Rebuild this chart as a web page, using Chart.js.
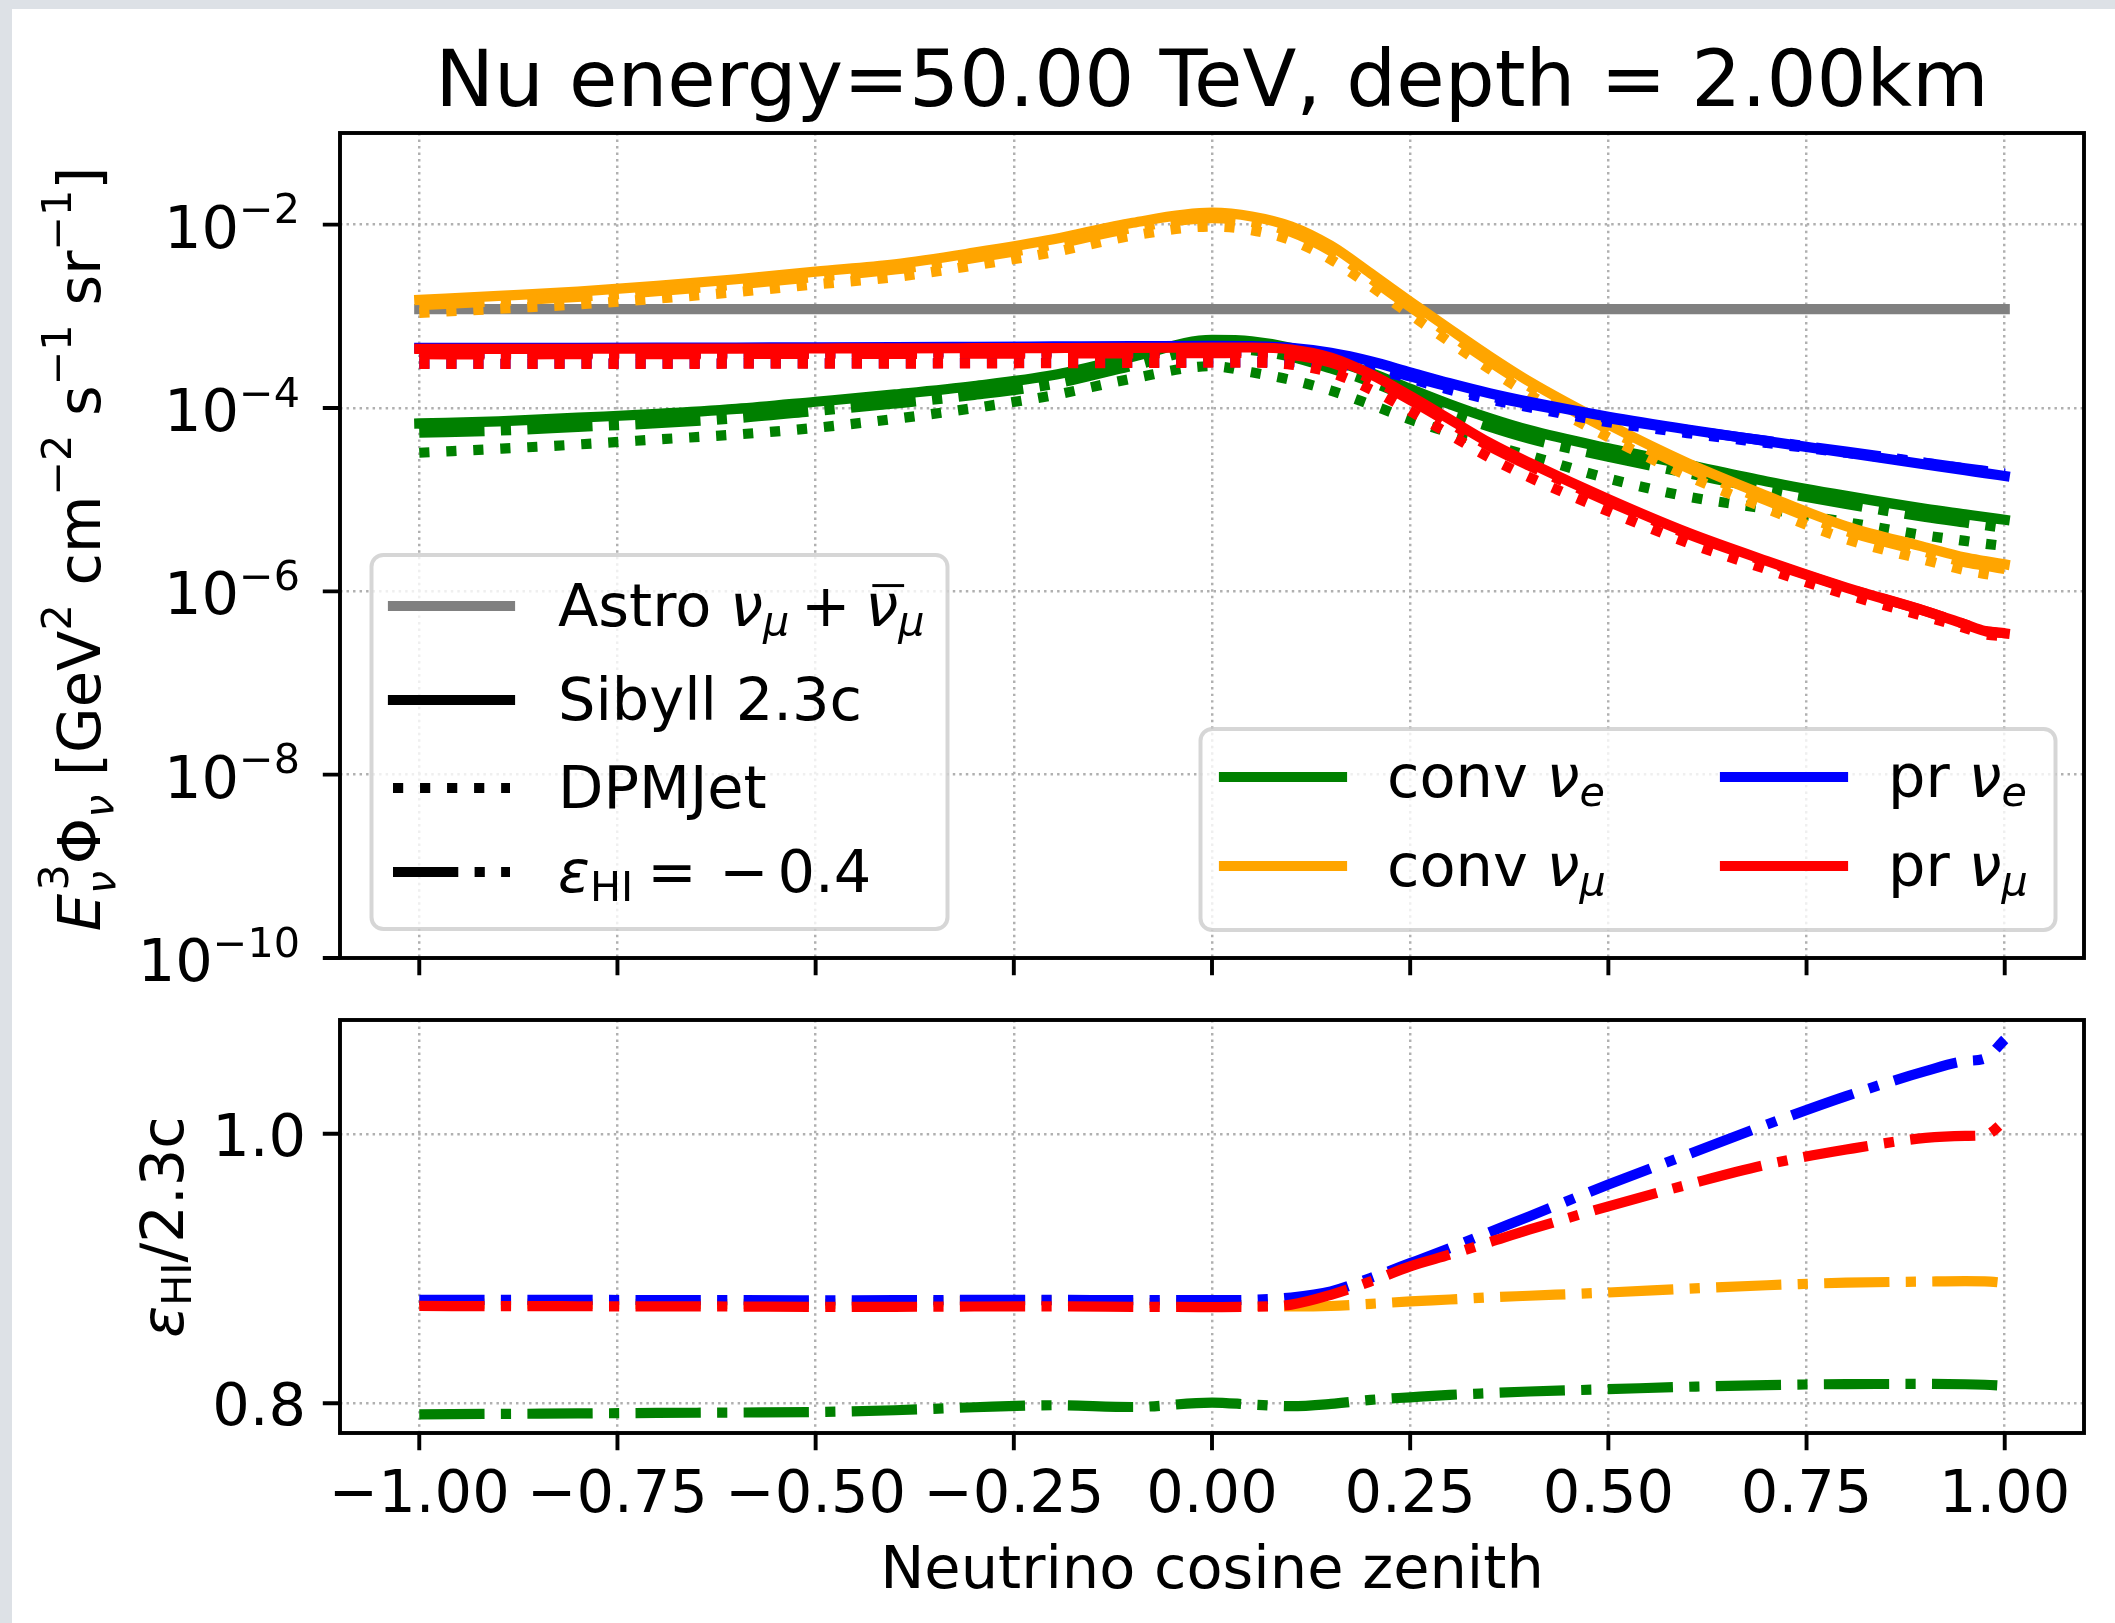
<!DOCTYPE html>
<html>
<head>
<meta charset="utf-8">
<title>Nu energy=50.00 TeV, depth = 2.00km</title>
<script src="https://cdn.jsdelivr.net/npm/chart.js"></script>
<style>
  html, body { margin: 0; padding: 0; background: #ffffff; }
  #page { position: relative; width: 2115px; height: 1623px; overflow: hidden; background: #ffffff; }
  .band { position: absolute; background: #dde1e6; }
  canvas { position: absolute; left: 0; top: 0; }
</style>
</head>
<body>
<div id="page">
  <div class="band" style="left:0;top:0;width:2115px;height:9px"></div>
  <div class="band" style="left:0;top:0;width:12px;height:1623px"></div>
  <canvas id="flux" width="2115" height="1623"></canvas>
  <canvas id="ratio" width="2115" height="1623"></canvas>
</div>
<script>
// ---- data: neutrino flux vs cos(zenith), E = 50 TeV, depth 2 km ----
const cosZenith = [-1, -0.9, -0.8, -0.7, -0.6, -0.5, -0.4, -0.3, -0.2, -0.1, 0, 0.05, 0.1, 0.15, 0.2, 0.25, 0.3, 0.35, 0.4, 0.5, 0.6, 0.7, 0.8, 0.9, 0.95, 0.975, 1.0];

// conventional nu_e
const convE_sibyll = [6.78e-5, 7.16e-5, 7.85e-5, 8.61e-5, 9.77e-5, 1.17e-4, 1.41e-4, 1.74e-4, 2.29e-4, 3.63e-4, 5.53e-4, 5.35e-4, 4.53e-4, 3.38e-4, 2.42e-4, 1.62e-4, 1.10e-4, 7.76e-5, 5.75e-5, 3.63e-5, 2.40e-5, 1.58e-5, 1.10e-5, 7.94e-6, 6.92e-6, 6.46e-6, 6.03e-6];
const convE_dpmjet = [3.25e-5, 3.59e-5, 4.00e-5, 4.54e-5, 5.14e-5, 6.08e-5, 7.62e-5, 1.00e-4, 1.38e-4, 2.10e-4, 2.86e-4, 2.45e-4, 2.02e-4, 1.55e-4, 1.09e-4, 7.50e-5, 5.37e-5, 3.98e-5, 3.02e-5, 1.70e-5, 1.08e-5, 7.94e-6, 5.69e-6, 4.07e-6, 3.55e-6, 3.31e-6, 3.12e-6];
const convE_epsHI = [5.37e-5, 5.67e-5, 6.22e-5, 6.83e-5, 7.75e-5, 9.28e-5, 1.12e-4, 1.39e-4, 1.83e-4, 2.89e-4, 4.43e-4, 4.27e-4, 3.61e-4, 2.70e-4, 1.94e-4, 1.30e-4, 8.87e-5, 6.27e-5, 4.65e-5, 2.94e-5, 1.95e-5, 1.29e-5, 8.96e-6, 6.47e-6, 5.63e-6, 5.26e-6, 4.90e-6];

// conventional nu_mu
const convMu_sibyll = [1.51e-3, 1.67e-3, 1.86e-3, 2.15e-3, 2.54e-3, 3.08e-3, 3.70e-3, 4.95e-3, 6.92e-3, 1.05e-2, 1.35e-2, 1.23e-2, 9.55e-3, 5.89e-3, 2.95e-3, 1.45e-3, 7.24e-4, 3.67e-4, 1.95e-4, 6.61e-5, 2.51e-5, 1.10e-5, 5.13e-6, 3.02e-6, 2.34e-6, 2.14e-6, 1.97e-6];
const convMu_dpmjet = [1.09e-3, 1.21e-3, 1.35e-3, 1.56e-3, 1.84e-3, 2.23e-3, 2.68e-3, 3.59e-3, 5.01e-3, 7.59e-3, 9.55e-3, 8.71e-3, 6.76e-3, 4.17e-3, 2.14e-3, 1.05e-3, 5.25e-4, 2.66e-4, 1.41e-4, 4.79e-5, 1.82e-5, 7.94e-6, 3.72e-6, 2.19e-6, 1.70e-6, 1.55e-6, 1.43e-6];
const convMu_epsHI = [1.32e-3, 1.46e-3, 1.63e-3, 1.88e-3, 2.22e-3, 2.69e-3, 3.24e-3, 4.34e-3, 6.06e-3, 9.18e-3, 1.18e-2, 1.07e-2, 8.33e-3, 5.14e-3, 2.58e-3, 1.27e-3, 6.35e-4, 3.22e-4, 1.72e-4, 5.83e-5, 2.22e-5, 9.76e-6, 4.56e-6, 2.69e-6, 2.08e-6, 1.91e-6, 1.75e-6];

// prompt nu_e
const prE_sibyll = [4.52e-4, 4.53e-4, 4.54e-4, 4.55e-4, 4.57e-4, 4.59e-4, 4.62e-4, 4.66e-4, 4.70e-4, 4.73e-4, 4.76e-4, 4.72e-4, 4.53e-4, 4.00e-4, 3.24e-4, 2.45e-4, 1.86e-4, 1.45e-4, 1.17e-4, 8.04e-5, 5.83e-5, 4.35e-5, 3.25e-5, 2.42e-5, 2.09e-5, 1.95e-5, 1.81e-5];
const prE_dpmjet = [3.05e-4, 3.05e-4, 3.06e-4, 3.07e-4, 3.08e-4, 3.08e-4, 3.09e-4, 3.10e-4, 3.12e-4, 3.13e-4, 3.16e-4, 3.16e-4, 3.16e-4, 3.02e-4, 2.69e-4, 2.09e-4, 1.58e-4, 1.24e-4, 1.02e-4, 7.00e-5, 5.32e-5, 4.15e-5, 3.25e-5, 2.51e-5, 2.19e-5, 2.04e-5, 1.89e-5];
const prE_epsHI = [3.96e-4, 3.97e-4, 3.98e-4, 3.99e-4, 4.01e-4, 4.02e-4, 4.05e-4, 4.09e-4, 4.12e-4, 4.15e-4, 4.17e-4, 4.14e-4, 3.98e-4, 3.53e-4, 2.89e-4, 2.21e-4, 1.70e-4, 1.34e-4, 1.10e-4, 7.74e-5, 5.74e-5, 4.38e-5, 3.34e-5, 2.53e-5, 2.20e-5, 2.06e-5, 1.94e-5];

// prompt nu_mu
const prMu_sibyll = [4.42e-4, 4.42e-4, 4.43e-4, 4.44e-4, 4.45e-4, 4.46e-4, 4.47e-4, 4.49e-4, 4.51e-4, 4.53e-4, 4.56e-4, 4.57e-4, 4.35e-4, 3.55e-4, 2.34e-4, 1.35e-4, 7.50e-5, 4.17e-5, 2.53e-5, 1.01e-5, 4.37e-6, 2.14e-6, 1.10e-6, 6.10e-7, 4.37e-7, 3.69e-7, 3.48e-7];
const prMu_dpmjet = [3.02e-4, 3.02e-4, 3.03e-4, 3.03e-4, 3.04e-4, 3.05e-4, 3.05e-4, 3.07e-4, 3.08e-4, 3.10e-4, 3.12e-4, 3.13e-4, 2.97e-4, 2.43e-4, 1.60e-4, 9.23e-5, 5.13e-5, 2.88e-5, 1.76e-5, 7.46e-6, 3.39e-6, 1.74e-6, 9.23e-7, 5.31e-7, 3.98e-7, 3.39e-7, 3.24e-7];
const prMu_epsHI = [3.86e-4, 3.85e-4, 3.86e-4, 3.87e-4, 3.88e-4, 3.89e-4, 3.90e-4, 3.91e-4, 3.93e-4, 3.95e-4, 3.97e-4, 3.98e-4, 3.80e-4, 3.13e-4, 2.08e-4, 1.22e-4, 6.83e-5, 3.83e-5, 2.35e-5, 9.56e-6, 4.21e-6, 2.09e-6, 1.09e-6, 6.08e-7, 4.36e-7, 3.69e-7, 3.51e-7];

// astrophysical nu_mu + anti-nu_mu
const astroCos = [-1, 1];
const astroFlux = [1.2e-3, 1.2e-3];

// ratio eps_HI = -0.4 over Sibyll 2.3c
const ratioConvE = [0.7918, 0.7921, 0.7924, 0.7928, 0.7931, 0.7935, 0.7948, 0.7970, 0.7985, 0.7972, 0.8005, 0.7990, 0.7978, 0.7995, 0.8025, 0.8044, 0.8062, 0.8075, 0.8087, 0.8104, 0.8122, 0.8135, 0.8142, 0.8143, 0.8141, 0.8137, 0.8129];
const ratioConvMu = [0.8740, 0.8740, 0.8738, 0.8737, 0.8737, 0.8738, 0.8745, 0.8760, 0.8762, 0.8745, 0.8738, 0.8725, 0.8718, 0.8722, 0.8738, 0.8756, 0.8770, 0.8786, 0.8798, 0.8822, 0.8850, 0.8876, 0.8895, 0.8903, 0.8906, 0.8905, 0.8893];
const ratioPrE = [0.8768, 0.8768, 0.8767, 0.8766, 0.8765, 0.8764, 0.8765, 0.8767, 0.8767, 0.8765, 0.8765, 0.8768, 0.8785, 0.8830, 0.8930, 0.9040, 0.9152, 0.9270, 0.9387, 0.9623, 0.9846, 1.0069, 1.0280, 1.0465, 1.0540, 1.0560, 1.0700];
const ratioPrMu = [0.8722, 0.8721, 0.8720, 0.8719, 0.8718, 0.8716, 0.8716, 0.8718, 0.8719, 0.8716, 0.8714, 0.8716, 0.8732, 0.8805, 0.8904, 0.9016, 0.9103, 0.9195, 0.9288, 0.9462, 0.9623, 0.9772, 0.9883, 0.9970, 0.9985, 0.9990, 1.0094];

// axis ticks
const cosTicks = [-1, -0.75, -0.5, -0.25, 0, 0.25, 0.5, 0.75, 1];
const fluxTicks = [1e-10, 1e-8, 1e-6, 1e-4, 1e-2];
const ratioTicks = [0.8, 1.0];

// ---- styling ----
const FAMILY = '"DejaVu Sans"';
const FS = 59;
const TITLE_FS = 78.7;
const LW = 10.2;
const SPINE = 3.9;
const TICK = 17.2;
const GRID_LW = 2.46;
const SOLID = [];
const DOT = [LW, 1.65 * LW];
const DASHDOT = [6.4 * LW, 1.6 * LW, LW, 1.6 * LW];
const GREEN = '#008000', ORANGE = '#ffa500', BLUE = '#0000ff', RED = '#ff0000', GREY = '#808080';

function pts(xs, ys) { return xs.map((x, i) => ({ x: x, y: ys[i] })); }

function line(data, color, dash) {
  return {
    data: data,
    borderColor: color,
    backgroundColor: color,
    borderWidth: LW,
    borderDash: dash,
    borderCapStyle: dash.length ? 'butt' : 'square',
    borderJoinStyle: 'round',
    pointRadius: 0,
    pointHoverRadius: 0,
    fill: false,
    cubicInterpolationMode: 'monotone'
  };
}

// ---- rich text (sub/superscripts, italics) ----
function setFont(ctx, size, italic) {
  ctx.font = (italic ? 'italic ' : '') + size.toFixed(2) + 'px ' + FAMILY;
}
function richLayout(ctx, parts, size) {
  let x = 0, prevStart = 0;
  const items = [];
  for (const p of parts) {
    const fs = size * (p.s || 1);
    setFont(ctx, fs, p.i);
    const w = ctx.measureText(p.t).width;
    const start = (p.stack ? prevStart : x) + (p.k || 0) * size;
    items.push({ p: p, fs: fs, start: start, w: w });
    x = p.stack ? Math.max(x, start + w) : start + w;
    prevStart = start;
  }
  return { items: items, width: x };
}
function drawRich(ctx, parts, size, x, y, align) {
  const L = richLayout(ctx, parts, size);
  const x0 = align === 'center' ? x - L.width / 2 : (align === 'right' ? x - L.width : x);
  ctx.textAlign = 'left';
  ctx.textBaseline = 'alphabetic';
  for (const it of L.items) {
    setFont(ctx, it.fs, it.p.i);
    const yy = y + (it.p.dy || 0) * size;
    ctx.fillText(it.p.t, x0 + it.start, yy);
    if (it.p.bar) {
      ctx.fillRect(x0 + it.start + 0.12 * it.fs, yy - 0.71 * it.fs, it.w - 0.02 * it.fs, 0.05 * size);
    }
  }
}
function drawRotated(ctx, parts, size, bx, cy) {
  ctx.save();
  ctx.translate(bx, cy);
  ctx.rotate(-Math.PI / 2);
  drawRich(ctx, parts, size, 0, 0, 'center');
  ctx.restore();
}

// ---- legends ----
function roundRect(ctx, x, y, w, h, r) {
  ctx.beginPath();
  ctx.moveTo(x + r, y);
  ctx.lineTo(x + w - r, y);
  ctx.arcTo(x + w, y, x + w, y + r, r);
  ctx.lineTo(x + w, y + h - r);
  ctx.arcTo(x + w, y + h, x + w - r, y + h, r);
  ctx.lineTo(x + r, y + h);
  ctx.arcTo(x, y + h, x, y + h - r, r);
  ctx.lineTo(x, y + r);
  ctx.arcTo(x, y, x + r, y, r);
  ctx.closePath();
}
function drawLegend(ctx, box, entries) {
  ctx.save();
  roundRect(ctx, box.x, box.y, box.w, box.h, 0.2 * FS);
  ctx.fillStyle = 'rgba(255,255,255,0.8)';
  ctx.fill();
  ctx.lineWidth = 4;
  ctx.strokeStyle = 'rgba(204,204,204,0.8)';
  ctx.setLineDash([]);
  ctx.stroke();
  for (const e of entries) {
    ctx.beginPath();
    ctx.moveTo(e.x0, e.y);
    ctx.lineTo(e.x1, e.y);
    ctx.lineWidth = LW;
    ctx.strokeStyle = e.color;
    ctx.setLineDash(e.dash);
    ctx.lineCap = e.dash.length ? 'butt' : 'square';
    ctx.stroke();
    ctx.setLineDash([]);
    ctx.fillStyle = '#000';
    drawRich(ctx, e.parts, FS, e.tx, e.y + 20, 'left');
  }
  ctx.restore();
}

const nu = { t: '\u03bd', i: 1 };
const subMu = { t: '\u03bc', i: 1, s: 0.7, dy: 0.16 };
const subE = { t: 'e', i: 1, s: 0.7, dy: 0.16 };

const modelLegend = [
  { y: 606, color: GREY, dash: SOLID, parts: [{ t: 'Astro ' }, nu, subMu, { t: '+', k: 0.2 }, { t: '\u03bd', i: 1, bar: 1, k: 0.25 }, subMu] },
  { y: 700, color: '#000', dash: SOLID, parts: [{ t: 'Sibyll 2.3c' }] },
  { y: 788, color: '#000', dash: DOT, parts: [{ t: 'DPMJet' }] },
  { y: 872, color: '#000', dash: DASHDOT, parts: [{ t: '\u03b5', i: 1 }, { t: 'HI', s: 0.7, dy: 0.16 }, { t: '=', k: 0.24 }, { t: '\u2212', k: 0.38 }, { t: '0.4', k: 0.15 }] }
].map(e => Object.assign(e, { x0: 393, x1: 510, tx: 558 }));

const flavourLegend = [
  { y: 777, x0: 1224, x1: 1342, tx: 1387, color: GREEN, dash: SOLID, parts: [{ t: 'conv ' }, nu, subE] },
  { y: 866, x0: 1224, x1: 1342, tx: 1387, color: ORANGE, dash: SOLID, parts: [{ t: 'conv ' }, nu, subMu] },
  { y: 777, x0: 1725, x1: 1843, tx: 1888, color: BLUE, dash: SOLID, parts: [{ t: 'pr ' }, nu, subE] },
  { y: 866, x0: 1725, x1: 1843, tx: 1888, color: RED, dash: SOLID, parts: [{ t: 'pr ' }, nu, subMu] }
];

// ---- axes decoration: frame, tick marks, tick labels, axis labels ----
function fmtCos(v) { return (v < 0 ? '\u2212' : '') + Math.abs(v).toFixed(2); }

function decor(kind) {
  return {
    id: 'decor_' + kind,
    afterDatasetsDraw(chart) {
      const ctx = chart.ctx, a = chart.chartArea;
      const xs = chart.scales.x, ys = chart.scales.y;
      ctx.save();
      ctx.setLineDash([]);
      ctx.strokeStyle = '#000';
      ctx.fillStyle = '#000';
      ctx.lineWidth = SPINE;
      ctx.lineJoin = 'miter';
      ctx.strokeRect(a.left, a.top, a.right - a.left, a.bottom - a.top);
      ctx.beginPath();
      xs.ticks.forEach(t => {
        const x = xs.getPixelForValue(t.value);
        ctx.moveTo(x, a.bottom); ctx.lineTo(x, a.bottom + TICK);
      });
      ys.ticks.forEach(t => {
        const y = ys.getPixelForValue(t.value);
        ctx.moveTo(a.left - TICK, y); ctx.lineTo(a.left, y);
      });
      ctx.lineCap = 'butt';
      ctx.stroke();

      if (kind === 'flux') {
        drawRich(ctx, [{ t: 'Nu energy=50.00 TeV, depth = 2.00km' }], TITLE_FS, (a.left + a.right) / 2, 105.7, 'center');
        ys.ticks.forEach(t => {
          const e = Math.round(Math.log10(t.value));
          const y = ys.getPixelForValue(t.value);
          drawRich(ctx, [{ t: '10' }, { t: '\u2212' + Math.abs(e), s: 0.7, dy: -0.41 }], FS, 300, y + 23, 'right');
        });
        drawRotated(ctx, [
          { t: 'E', i: 1 },
          { t: '3', s: 0.7, dy: -0.55, k: 0.06 },
          { t: '\u03bd', i: 1, s: 0.7, dy: 0.25, stack: 1, k: -0.06 },
          { t: '\u03a6' },
          { t: '\u03bd', i: 1, s: 0.7, dy: 0.22 },
          { t: ' [GeV' }, { t: '2', s: 0.7, dy: -0.5 },
          { t: ' cm' }, { t: '\u22122', s: 0.7, dy: -0.5 },
          { t: ' s' }, { t: '\u22121', s: 0.7, dy: -0.5 },
          { t: ' sr' }, { t: '\u22121', s: 0.7, dy: -0.5 },
          { t: ']' }
        ], FS, 100, 549);
        drawLegend(ctx, { x: 371.5, y: 555, w: 576, h: 374 }, modelLegend);
        drawLegend(ctx, { x: 1200.5, y: 729, w: 855, h: 201 }, flavourLegend);
      } else {
        ys.ticks.forEach(t => {
          const y = ys.getPixelForValue(t.value);
          drawRich(ctx, [{ t: t.value.toFixed(1) }], FS, 306, y + 22, 'right');
        });
        xs.ticks.forEach(t => {
          drawRich(ctx, [{ t: fmtCos(t.value) }], FS, xs.getPixelForValue(t.value), 1512, 'center');
        });
        drawRich(ctx, [{ t: 'Neutrino cosine zenith' }], FS, (a.left + a.right) / 2, 1588, 'center');
        drawRotated(ctx, [{ t: '\u03b5', i: 1 }, { t: 'HI', s: 0.7, dy: 0.14 }, { t: '/2.3c' }], FS, 183, 1227);
      }
      ctx.restore();
    }
  };
}

function gridOpts() {
  return { color: '#b0b0b0', lineWidth: GRID_LW, drawTicks: false };
}
function xScale(height) {
  return {
    type: 'linear', min: -1.1, max: 1.1,
    ticks: { display: false },
    grid: gridOpts(),
    border: { display: false, dash: [GRID_LW, 1.65 * GRID_LW] },
    afterBuildTicks: s => { s.ticks = cosTicks.map(v => ({ value: v })); },
    afterFit: s => { s.height = height; }
  };
}
function baseOptions(padding) {
  return {
    responsive: false,
    animation: false,
    devicePixelRatio: 1,
    events: [],
    layout: { padding: padding },
    plugins: { legend: { display: false }, tooltip: { enabled: false }, title: { display: false } }
  };
}

// ---- upper panel: fluxes ----
const fluxDatasets = [
  line(pts(astroCos, astroFlux), GREY, SOLID),
  line(pts(cosZenith, convE_sibyll), GREEN, SOLID),
  line(pts(cosZenith, convE_dpmjet), GREEN, DOT),
  line(pts(cosZenith, convE_epsHI), GREEN, DASHDOT),
  line(pts(cosZenith, convMu_sibyll), ORANGE, SOLID),
  line(pts(cosZenith, convMu_dpmjet), ORANGE, DOT),
  line(pts(cosZenith, convMu_epsHI), ORANGE, DASHDOT),
  line(pts(cosZenith, prE_sibyll), BLUE, SOLID),
  line(pts(cosZenith, prE_dpmjet), BLUE, DOT),
  line(pts(cosZenith, prE_epsHI), BLUE, DASHDOT),
  line(pts(cosZenith, prMu_sibyll), RED, SOLID),
  line(pts(cosZenith, prMu_dpmjet), RED, DOT),
  line(pts(cosZenith, prMu_epsHI), RED, DASHDOT)
];
fluxDatasets.forEach((d, i, arr) => { d.order = arr.length - i; });

const fluxOptions = baseOptions({ left: 0, right: 31, top: 133, bottom: 623 });
fluxOptions.scales = {
  x: xScale(42),
  y: {
    type: 'logarithmic', min: 1e-10, max: 1e-1,
    ticks: { display: false },
    grid: gridOpts(),
    border: { display: false, dash: [GRID_LW, 1.65 * GRID_LW] },
    afterBuildTicks: s => { s.ticks = fluxTicks.map(v => ({ value: v })); },
    afterFit: s => { s.width = 340; }
  }
};
new Chart(document.getElementById('flux'), {
  type: 'line',
  data: { datasets: fluxDatasets },
  options: fluxOptions,
  plugins: [decor('flux')]
});

// ---- lower panel: ratio eps_HI / Sibyll 2.3c ----
const ratioDatasets = [
  line(pts(cosZenith, ratioConvE), GREEN, DASHDOT),
  line(pts(cosZenith, ratioConvMu), ORANGE, DASHDOT),
  line(pts(cosZenith, ratioPrE), BLUE, DASHDOT),
  line(pts(cosZenith, ratioPrMu), RED, DASHDOT)
];
ratioDatasets.forEach((d, i, arr) => { d.order = arr.length - i; });

const ratioOptions = baseOptions({ left: 0, right: 31, top: 1020, bottom: 0 });
ratioOptions.scales = {
  x: xScale(190),
  y: {
    type: 'linear', min: 0.7779, max: 1.0845,
    ticks: { display: false },
    grid: gridOpts(),
    border: { display: false, dash: [GRID_LW, 1.65 * GRID_LW] },
    afterBuildTicks: s => { s.ticks = ratioTicks.map(v => ({ value: v })); },
    afterFit: s => { s.width = 340; }
  }
};
new Chart(document.getElementById('ratio'), {
  type: 'line',
  data: { datasets: ratioDatasets },
  options: ratioOptions,
  plugins: [decor('ratio')]
});
</script>
</body>
</html>
